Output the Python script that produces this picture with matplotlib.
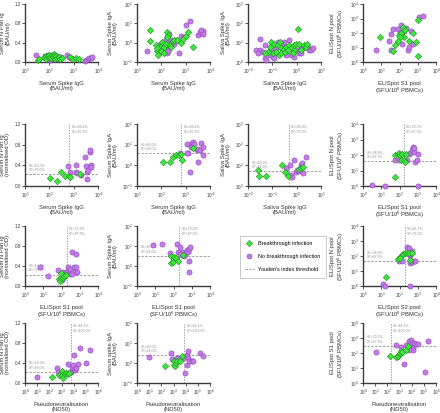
import matplotlib.pyplot as plt
from matplotlib.ticker import LogLocator, LogFormatterMathtext, NullLocator, FixedLocator
from matplotlib.lines import Line2D

plt.rcParams['font.family'] = ['Liberation Sans', 'DejaVu Sans']
plt.rcParams['mathtext.default'] = 'regular'

# ---------------- data ----------------
# row 1: serum spike IgG vs serum N pan Ig (BAU/ml)
p11_bt_x = [35, 38, 60, 70, 75, 85, 95, 100, 110, 120, 130, 140, 150, 160, 175, 190, 210, 240, 280, 320, 700, 900, 1200, 1700]
p11_bt_y = [0.04, 0.07, 0.10, 0.13, 0.06, 0.12, 0.09, 0.15, 0.11, 0.08, 0.14, 0.10, 0.17, 0.12, 0.07, 0.13, 0.09, 0.11, 0.06, 0.08, 0.10, 0.06, 0.08, 0.07]
p11_nb_x = [28, 65, 80, 92, 105, 115, 135, 150, 170, 200, 230, 300, 550, 620, 750, 2800, 3300, 3800, 4300, 5000, 5500]
p11_nb_y = [0.15, 0.12, 0.08, 0.14, 0.05, 0.10, 0.13, 0.07, 0.09, 0.12, 0.06, 0.10, 0.14, 0.11, 0.08, 0.03, 0.05, 0.07, 0.09, 0.08, 0.10]

# row 1: serum spike IgG vs serum spike IgA
p12_bt_x = [34, 33, 58, 64, 73, 88, 110, 130, 150, 178, 195, 178, 230, 290, 340, 440, 650, 800, 1020, 1200, 1950, 245, 93, 64, 126]
p12_bt_y = [4.6, 1.2, 0.8, 0.39, 0.23, 0.6, 1.07, 0.6, 0.9, 3.4, 2.6, 1.9, 0.8, 1.2, 1.3, 1.4, 0.95, 1.6, 2.1, 3.4, 0.6, 0.62, 0.35, 0.5, 0.31]
p12_nb_x = [26, 80, 93, 110, 120, 138, 150, 165, 195, 210, 178, 340, 400, 550, 650, 830, 1020, 1550, 3160, 3980, 5100, 4400, 5400, 110, 130, 150, 210, 245, 190, 88]
p12_nb_y = [0.35, 0.8, 0.6, 0.5, 0.42, 0.74, 0.42, 0.28, 0.6, 2.8, 0.5, 0.9, 1.4, 0.28, 2.1, 1.9, 8.7, 12.6, 2.5, 3.4, 3.8, 4.4, 2.8, 0.9, 1.07, 1.3, 0.9, 1.3, 0.35, 0.42]

# row 1: saliva spike IgG vs saliva spike IgA
p13_bt_x = [1.1, 0.091, 0.12, 0.17, 0.2, 0.23, 0.27, 0.107, 0.066, 0.049, 0.37, 0.5, 0.59, 0.76, 0.81, 0.93, 1.3, 1.5, 2.0, 2.4, 2.6, 0.078, 0.145, 0.18, 0.23, 0.32, 0.43, 0.69]
p13_bt_y = [53, 10.7, 8.9, 7.3, 10.7, 5.0, 4.1, 2.8, 3.4, 2.8, 6.0, 7.3, 5.0, 4.1, 7.3, 8.9, 8.9, 4.4, 7.3, 6.0, 8.9, 6.0, 3.4, 2.3, 2.8, 3.4, 4.1, 2.8]
p13_nb_x = [0.031, 0.022, 0.031, 0.026, 0.042, 0.049, 0.057, 0.078, 0.107, 0.145, 0.17, 0.3, 0.5, 0.59, 0.81, 1.1, 1.3, 1.5, 1.75, 2.8, 3.2, 3.8, 4.5, 1.5, 0.37, 0.27, 0.12, 0.091, 0.23, 0.052]
p13_nb_y = [15.6, 4.4, 4.1, 2.8, 3.4, 1.6, 1.3, 2.3, 1.9, 5.0, 10.7, 10.7, 14, 2.3, 1.9, 4.1, 2.8, 3.0, 5.0, 6.0, 4.1, 4.4, 5.0, 6.0, 2.3, 6.0, 1.6, 4.1, 7.3, 7.3]

# row 1: ELISpot S1 pool vs ELISpot N pool
p14_bt_x = [8.1, 43, 60, 92, 124, 152, 204, 187, 350, 535, 810, 1000, 1090, 100, 81]
p14_bt_y = [55, 5.9, 15.4, 70, 105, 250, 150, 49, 30, 105, 23, 800, 2.4, 49, 30]
p14_nb_x = [5.4, 28, 35, 43, 81, 100, 124, 140, 187, 230, 285, 350, 435, 535, 1230, 1880, 124, 35]
p14_nb_y = [7.2, 27, 81, 175, 175, 105, 63, 18, 135, 225, 6.5, 11, 135, 18, 1320, 1450, 370, 7.2]

# row 2
p21_bt_x = [106, 210, 316, 436, 650, 690, 1780]
p21_bt_y = [0.15, 0.10, 0.27, 0.20, 0.19, 0.18, 0.23]
p21_nb_x = [590, 690, 1230, 1300, 1380, 1950, 2860, 3330, 3550, 3900, 4570, 4900, 5000, 5400, 3600]
p21_nb_y = [0.39, 0.28, 0.41, 0.28, 0.25, 0.21, 0.57, 0.39, 0.28, 0.31, 0.65, 0.70, 0.41, 0.36, 0.13]

p22_bt_x = [112, 230, 316, 400, 510, 650, 690, 1950]
p22_bt_y = [1.4, 1.4, 2.6, 3.0, 3.2, 3.4, 1.8, 6.6]
p22_nb_x = [590, 1170, 1300, 1440, 1670, 1780, 2090, 2300, 2860, 3160, 3330, 3900, 4270, 5000, 5400, 1120]
p22_nb_y = [3.8, 10.5, 3.8, 0.49, 7.9, 11.6, 13, 10.5, 5.5, 1.5, 5.9, 5.5, 11.6, 7.9, 3.2, 3.8]

p23_bt_x = [0.026, 0.028, 0.053, 0.26, 0.32, 0.43, 1.3, 1.5, 1.8]
p23_bt_y = [5.9, 3.0, 3.0, 10.4, 4.6, 3.0, 6.4, 7.7, 8.6]
p23_nb_x = [0.37, 0.54, 0.59, 0.81, 0.95, 1.05, 1.3, 1.4, 1.5, 1.7, 2.4, 1.8, 0.65]
p23_nb_y = [7.1, 10.4, 3.4, 18, 4.9, 5.9, 5.3, 6.6, 10.4, 12.5, 26, 4.1, 2.8]

p24_bt_x = [60, 60, 81, 92, 113, 128, 140, 173, 195, 240]
p24_bt_y = [3.7, 95, 123, 135, 105, 45, 123, 45, 35, 123]
p24_nb_x = [3.2, 17, 54, 92, 263, 324, 398, 490, 537, 603, 660, 741, 912, 1000, 1047, 213]
p24_nb_y = [1.2, 1.05, 50, 45, 45, 123, 135, 200, 330, 158, 288, 35, 45, 123, 1.05, 39]

# row 3
p31_bt_x = [71, 81, 89, 123, 141, 166, 89]
p31_bt_y = [0.14, 0.10, 0.17, 0.17, 0.20, 0.23, 0.26]
p31_nb_x = [6.6, 19, 66, 100, 123, 187, 230, 282, 309, 398, 468, 537, 603, 660, 708, 355, 151]
p31_nb_y = [0.38, 0.20, 0.32, 0.12, 0.28, 0.28, 0.38, 0.35, 0.25, 0.68, 0.38, 0.28, 0.65, 0.38, 0.28, 0.25, 0.25]

p32_bt_x = [71, 74, 91, 109, 141, 173, 347]
p32_bt_y = [3.1, 1.4, 1.5, 2.9, 2.6, 1.8, 3.5]
p32_nb_x = [7.4, 23, 66, 151, 186, 230, 282, 324, 380, 437, 537, 660, 741, 813, 741, 741, 230]
p32_nb_y = [11, 12.3, 4.6, 12.3, 5.1, 9.1, 3.7, 5.1, 3.1, 4.2, 6.2, 5.1, 7.4, 9.1, 1.8, 0.51, 4.2]

p34_bt_x = [19, 85, 105, 129, 158, 195, 263, 324, 363, 490, 113]
p34_bt_y = [3.7, 59, 88, 114, 126, 148, 162, 162, 53, 148, 76]
p34_nb_x = [12.3, 17, 92, 141, 263, 324, 355, 398, 450, 490, 398, 490, 603, 741, 363]
p34_nb_y = [1.3, 1.05, 45, 45, 405, 365, 98, 126, 148, 220, 32, 41, 45, 48, 1.05]

# row 4
p41_bt_x = [151, 645, 1000, 1200, 1350, 1860, 2570, 3470, 3980]
p41_bt_y = [0.13, 0.17, 0.25, 0.17, 0.10, 0.19, 0.20, 0.18, 0.21]
p41_nb_x = [10, 437, 525, 1350, 3470, 6500, 7900, 8900, 10000, 12300, 14800, 22900, 31600, 97700, 204000, 4790]
p41_nb_y = [0.12, 0.31, 0.23, 0.21, 0.38, 0.22, 0.33, 0.37, 0.57, 0.27, 0.30, 0.39, 0.70, 0.40, 0.67, 0.23]

p42_bt_x = [208, 1000, 1130, 1350, 1650, 2100, 3470, 5400]
p42_bt_y = [0.68, 1.3, 0.83, 0.68, 1.0, 1.2, 1.3, 2.3]
p42_nb_x = [10, 600, 725, 1860, 2570, 6500, 8900, 12300, 12300, 14800, 16600, 20400, 31600, 42700, 151000, 282000]
p42_nb_y = [2.0, 3.2, 1.5, 1.8, 1.8, 1.8, 0.32, 0.83, 2.6, 3.8, 1.8, 1.2, 1.3, 1.3, 3.2, 2.3]

p44_bt_x = [182, 525, 725, 1000, 1200, 1350, 1650, 3470, 4790]
p44_bt_y = [60, 54, 66, 85, 100, 129, 117, 166, 309]
p44_nb_x = [12.3, 525, 645, 1350, 2570, 3470, 6500, 8900, 10000, 12300, 13800, 16600, 22900, 31600, 126000, 204000, 6500]
p44_nb_y = [117, 324, 54, 240, 18.6, 363, 600, 776, 468, 214, 166, 468, 398, 398, 5.1, 600, 166]

# Youden thresholds (x, y) and SE/SP texts
thr = {
    'p21': (660, 0.23), 'p22': (660, 3.8), 'p23': (0.48, 5.3), 'p24': (170, 40),
    'p31': (190, 0.23), 'p32': (210, 3.3), 'p34': (195, 45),
    'p41': (5800, 0.227), 'p42': (7900, 2.4), 'p44': (200, 300),
}
txt = {
    'p21': ('SE=94.4%\nSP=87.5%', 'SE=14.3%\nSP=76.0%'),
    'p22': ('SE=94.4%\nSP=87.5%', 'SE=60.0%\nSP=64.0%'),
    'p23': ('SE=94.4%\nSP=75.0%', 'SE=60.0%\nSP=64.0%'),
    'p24': ('SE=72.2%\nSP=87.5%', 'SE=38.9%\nSP=87.5%'),
    'p31': ('SE=72.2%\nSP=87.5%', 'SE=14.3%\nSP=76.0%'),
    'p32': ('SE=72.2%\nSP=87.5%', 'SE=60.0%\nSP=64.0%'),
    'p34': ('SE=66.7%\nSP=75.0%', 'SE=38.9%\nSP=87.5%'),
    'p41': ('SE=61.1%\nSP=100.0%', 'SE=14.3%\nSP=76.0%'),
    'p42': ('SE=61.1%\nSP=100.0%', 'SE=60.0%\nSP=64.0%'),
    'p44': ('SE=61.1%\nSP=100.0%', 'SE=72.2%\nSP=87.5%'),
}

lab_sIgG = 'Serum Spike IgG\n(BAU/ml)'
lab_nBAU = 'Serum N Pan Ig\n(BAU/ml)'
lab_nOD = 'Serum N Pan Ig\n(normalised OD)'
lab_sIgA = 'Serum Spike IgA\n(BAU/ml)'
lab_sIgA2 = 'Serum spike IgA\n(BAU/ml)'
lab_salG = 'Saliva Spike IgG\n(BAU/ml)'
lab_salA = 'Saliva Spike IgA\n(BAU/ml)'
lab_S1 = 'ELISpot S1 pool\n(SFU/10$^6$ PBMCs)'
lab_S2 = 'ELISpot S2 pool\n(SFU/10$^6$ PBMCs)'
lab_N = 'ELISpot N pool\n(SFU/10$^6$ PBMCs)'
lab_ND = 'Pseudoneutralisation\n(ND50)'

GREEN, GREEN_E = '#3fe63f', '#1f8f1f'
PURPLE, PURPLE_E = '#c47ae8', '#8b46b8'
GREY = '#a0a0a0'
AX = '#3a3a3a'

W, H = 440, 413
fig = plt.figure(figsize=(W / 100, H / 100), dpi=100)

col_left = [25, 137, 248, 363]
row_top = [4, 124, 226, 323]
row_h = [58, 62, 60, 60]


def panel(r, c, bx, by, nx, ny, xlim, ylim, xlab, ylab, key=None):
    ax = fig.add_axes([col_left[c] / W, 1 - (row_top[r] + row_h[r]) / H, 73 / W, row_h[r] / H])
    ax.set_xscale('log')
    ax.set_xlim(*xlim)
    if ylim[0] > 0:
        ax.set_yscale('log')
        ax.yaxis.set_major_locator(LogLocator(base=10, numticks=10))
        ax.yaxis.set_major_formatter(LogFormatterMathtext())
        ax.yaxis.set_minor_locator(NullLocator())
    else:
        ax.yaxis.set_major_locator(FixedLocator([0, 0.4, 0.8, 1.2]))
        ax.set_yticklabels(['0.0', '0.4', '0.8', '1.2'])
    ax.set_ylim(*ylim)
    ax.xaxis.set_major_locator(LogLocator(base=10, numticks=10))
    ax.xaxis.set_major_formatter(LogFormatterMathtext())
    ax.xaxis.set_minor_locator(NullLocator())
    for s in ['top', 'right']:
        ax.spines[s].set_visible(False)
    for s in ['left', 'bottom']:
        ax.spines[s].set_color(AX)
        ax.spines[s].set_linewidth(1.0)
    ax.tick_params(labelsize=3.3, length=2, width=0.6, pad=1, colors=AX)
    ax.tick_params(axis='x', pad=1.6)
    ax.set_xlabel(xlab, fontsize=4.2, labelpad=3.5, color='#333333', linespacing=1.0)
    ax.set_ylabel(ylab, fontsize=4.2, labelpad=3, color='#333333', linespacing=1.0)
    ax.patch.set_alpha(0)

    if key is not None:
        tx, ty = thr[key]
        ax.axvline(tx, color=GREY, lw=0.7, ls=(0, (1.5, 1.2)), zorder=1)
        ax.axhline(ty, color=GREY, lw=0.7, ls=(0, (2.5, 1.5)), zorder=1)
        up, lo = txt[key]
        ax.annotate(up, (tx, 1), xycoords=('data', 'axes fraction'), xytext=(1.5, -1),
                    textcoords='offset points', ha='left', va='top', fontsize=2.5, color='#8c8c8c',
                    linespacing=1.1)
        ax.annotate(lo, (0, ty), xycoords=('axes fraction', 'data'), xytext=(3, 1.5),
                    textcoords='offset points', ha='left', va='bottom', fontsize=2.5, color='#8c8c8c',
                    linespacing=1.1)

    ax.scatter(nx, ny, s=14, marker='o', c=PURPLE, edgecolors=PURPLE_E, linewidths=0.4,
               zorder=3, clip_on=False)
    ax.scatter(bx, by, s=11, marker='D', c=GREEN, edgecolors=GREEN_E, linewidths=0.4,
               zorder=4, clip_on=False)
    return ax


lin = (0, 1.2)
panel(0, 0, p11_bt_x, p11_bt_y, p11_nb_x, p11_nb_y, (10, 1e4), lin, lab_sIgG, lab_nBAU)
panel(0, 1, p12_bt_x, p12_bt_y, p12_nb_x, p12_nb_y, (10, 1e4), (0.1, 100), lab_sIgG, lab_sIgA)
panel(0, 2, p13_bt_x, p13_bt_y, p13_nb_x, p13_nb_y, (0.01, 10), (1, 1000), lab_salG, lab_salA)
panel(0, 3, p14_bt_x, p14_bt_y, p14_nb_x, p14_nb_y, (1, 1e4), (1, 1e4), lab_S1, lab_N)

panel(1, 0, p21_bt_x, p21_bt_y, p21_nb_x, p21_nb_y, (10, 1e4), lin, lab_sIgG, lab_nOD, 'p21')
panel(1, 1, p22_bt_x, p22_bt_y, p22_nb_x, p22_nb_y, (10, 1e4), (0.1, 100), lab_sIgG, lab_sIgA, 'p22')
panel(1, 2, p23_bt_x, p23_bt_y, p23_nb_x, p23_nb_y, (0.01, 10), (1, 1000), lab_salG, lab_salA, 'p23')
panel(1, 3, p24_bt_x, p24_bt_y, p24_nb_x, p24_nb_y, (1, 1e4), (1, 1e4), lab_S1, lab_N, 'p24')

panel(2, 0, p31_bt_x, p31_bt_y, p31_nb_x, p31_nb_y, (1, 1e4), lin, lab_S1, lab_nOD, 'p31')
panel(2, 1, p32_bt_x, p32_bt_y, p32_nb_x, p32_nb_y, (1, 1e4), (0.1, 100), lab_S1, lab_sIgA, 'p32')
panel(2, 3, p34_bt_x, p34_bt_y, p34_nb_x, p34_nb_y, (1, 1e4), (1, 1e4), lab_S2, lab_N, 'p34')

panel(3, 0, p41_bt_x, p41_bt_y, p41_nb_x, p41_nb_y, (1, 1e6), lin, lab_ND, lab_nOD, 'p41')
panel(3, 1, p42_bt_x, p42_bt_y, p42_nb_x, p42_nb_y, (1, 1e6), (0.1, 100), lab_ND, lab_sIgA2, 'p42')
panel(3, 3, p44_bt_x, p44_bt_y, p44_nb_x, p44_nb_y, (1, 1e6), (1, 1e4), lab_ND, lab_S1, 'p44')

handles = [
    Line2D([], [], ls='none', marker='D', ms=3.2, mfc=GREEN, mec=GREEN_E, mew=0.4),
    Line2D([], [], ls='none', marker='o', ms=3.6, mfc=PURPLE, mec=PURPLE_E, mew=0.4),
    Line2D([], [], color=GREY, lw=0.7, ls=(0, (2.5, 1.5))),
]
names = ['Breakthrough infection', 'No breakthrough infection', "Youden's index threshold"]
leg = fig.legend(handles, names, loc='upper left', bbox_to_anchor=(237 / W, 1 - 233 / H),
                 fontsize=3.9, frameon=True, fancybox=False, edgecolor='#b0b0b0',
                 handlelength=1.6, handletextpad=0.8, labelspacing=1.5, borderpad=1.0)
leg.get_frame().set_linewidth(0.6)

fig.savefig('out.png', dpi=100)
